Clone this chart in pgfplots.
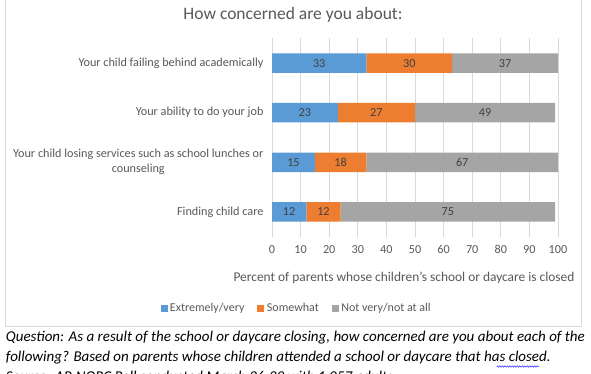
\documentclass[border=0pt]{standalone}
\usepackage{pgfplots}
\pgfplotsset{compat=1.18}
\usepackage{pgfplotstable}
\usepackage{fontspec}
\setmainfont{Carlito}
\usetikzlibrary{decorations.pathmorphing}
\definecolor{cblue}{HTML}{5B9BD5}
\definecolor{corange}{HTML}{ED7D31}
\definecolor{cgray}{HTML}{A5A5A5}
\definecolor{gridgray}{HTML}{D9D9D9}
\definecolor{txtgray}{HTML}{595959}
\definecolor{lbl}{HTML}{404040}
\pgfplotstableread{
cat a b c
0 33 30 37
1 23 27 49
2 15 18 67
3 12 12 75
}\data
\pgfplotsset{sq/.style={legend image code/.code={\fill[##1] (0pt,-3.5pt) rectangle (7pt,3.5pt);}}}
\begin{document}
\begin{tikzpicture}
\useasboundingbox (0,0) rectangle (591pt,-374pt);
\clip (0,0) rectangle (591pt,-374pt);
\fill[white] (0,0) rectangle (591pt,-374pt);
\draw[gridgray, line width=0.8pt] (5.7pt,5pt) -- (5.7pt,-326.7pt) -- (581.7pt,-326.7pt) -- (581.7pt,5pt);
\node[font=\fontsize{17.5}{20}\selectfont, text=txtgray] at (293pt,-15pt) {How concerned are you about:};
\begin{axis}[
  at={(272pt,-236.7pt)}, anchor=south west,
  scale only axis, width=286pt, height=198.4pt,
  xbar stacked, bar width=19.5pt,
  xmin=0, xmax=100, ymin=-0.5, ymax=3.5, y dir=reverse,
  xtick={0,10,...,100}, ytick={0,1,2,3},
  yticklabels={Your child failing behind academically, Your ability to do your job, {Your child losing services such as school lunches or\\counseling}, Finding child care},
  xmajorgrids, major grid style={draw=gridgray, line width=0.8pt},
  axis line style={draw=none}, major tick length=0pt,
  tick label style={font=\fontsize{12.2}{15}\selectfont, text=txtgray},
  yticklabel style={align=center, xshift=-5pt},
  xticklabel style={yshift=-5pt},
  /pgf/number format/assume math mode=true,
  legend style={at={(0.086,-0.36)}, anchor=center, draw=none, fill=none,
    legend columns=3, font=\fontsize{12}{14}\selectfont, text=txtgray,
    /tikz/every even column/.append style={column sep=11pt},
    /tikz/every odd column/.append style={column sep=0.5pt}},
]
\addplot[fill=cblue, draw=none, sq] table[x=a, y=cat] {\data};
\addplot[fill=corange, draw=none, sq] table[x=b, y=cat] {\data};
\addplot[fill=cgray, draw=none, sq] table[x=c, y=cat] {\data};
\legend{Extremely/very, Somewhat, Not very/not at all}
\end{axis}
\begin{axis}[
  at={(272pt,-236.7pt)}, anchor=south west,
  scale only axis, width=286pt, height=198.4pt,
  xmin=0, xmax=100, ymin=-0.5, ymax=3.5, y dir=reverse,
  hide axis,
  nodes near coords={\pgfmathprintnumber[assume math mode=true]{\pgfplotspointmeta}},
  every node near coord/.style={anchor=center, font=\fontsize{12.2}{14}\selectfont, text=lbl},
]
\addplot[only marks, mark=*, mark size=0pt, mark options={draw=none, fill=none}, point meta=explicit] table[x expr=\thisrow{a}/2, y=cat, meta=a] {\data};
\addplot[only marks, mark=*, mark size=0pt, mark options={draw=none, fill=none}, point meta=explicit] table[x expr=\thisrow{a}+\thisrow{b}/2, y=cat, meta=b] {\data};
\addplot[only marks, mark=*, mark size=0pt, mark options={draw=none, fill=none}, point meta=explicit] table[x expr=\thisrow{a}+\thisrow{b}+\thisrow{c}/2, y=cat, meta=c] {\data};
\end{axis}
\node[font=\fontsize{13.4}{16}\selectfont, text=txtgray] at (404pt,-278pt) {Percent of parents whose children's school or daycare is closed};
\node[anchor=base west, inner sep=0pt, font=\fontsize{15}{18}\selectfont\itshape] at (5.7pt,-341.7pt) {Question: As a result of the school or daycare closing, how concerned are you about each of the};
\node[anchor=base west, inner sep=0pt, font=\fontsize{15}{18}\selectfont\itshape] at (5.7pt,-361.7pt) {following? Based on parents whose children attended a school or daycare that has closed.};
\node[anchor=base west, inner sep=0pt, font=\fontsize{15}{18}\selectfont\itshape] at (5.7pt,-381.7pt) {Source: AP-NORC Poll conducted March 26-29 with 1,057 adults.};
\draw[blue!80, line width=0.5pt, decorate, decoration={zigzag, amplitude=0.8pt, segment length=2.5pt}] (496.7pt,-366.5pt) -- (539pt,-366.5pt);
\end{tikzpicture}
\end{document}
